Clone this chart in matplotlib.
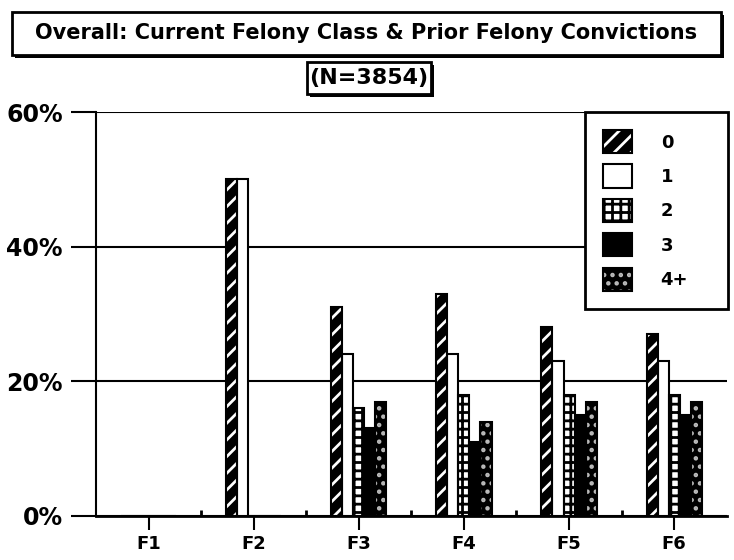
import numpy as np
import matplotlib
matplotlib.use("Agg")
import matplotlib.pyplot as plt
from matplotlib.patches import Patch, Rectangle

categories = ["F1", "F2", "F3", "F4", "F5", "F6"]
series_names = ["0", "1", "2", "3", "4+"]
values = {
    "0": [0, 50, 31, 33, 28, 27],
    "1": [0, 50, 24, 24, 23, 23],
    "2": [0, 0, 16, 18, 18, 18],
    "3": [0, 0, 13, 11, 15, 15],
    "4+": [0, 0, 17, 14, 17, 17],
}
yticks = [0, 20, 40, 60]
ytick_labels = ["0%", "20%", "40%", "60%"]

# face colour, hatch colour, hatch pattern for each series
styles = {
    "0": ("black", "white", "//"),
    "1": ("white", "white", None),
    "2": ("white", "black", "++"),
    "3": ("black", "black", None),
    "4+": ("black", "#bbbbbb", ".."),
}

plt.rcParams["font.family"] = ["DejaVu Sans"]
plt.rcParams["hatch.linewidth"] = 2.0


def boxed_text(fig, text, x0, y0, x1, y1, size):
    # drop shadow, then the white box, then the text
    fig.add_artist(Rectangle((x0 + 0.004, y0 - 0.005), x1 - x0, y1 - y0,
                             transform=fig.transFigure, facecolor="black",
                             edgecolor="none"))
    fig.add_artist(Rectangle((x0, y0), x1 - x0, y1 - y0, transform=fig.transFigure,
                             facecolor="white", edgecolor="black", linewidth=2))
    fig.text((x0 + x1) / 2, (y0 + y1) / 2, text, ha="center", va="center",
             fontsize=size, fontweight="bold")


def main():
    fig = plt.figure(figsize=(7.34, 5.6), dpi=100)
    ax = fig.add_axes([0.131, 0.0786, 0.859, 0.7214])

    x = np.arange(len(categories))
    width = 0.105
    handles = []
    for i, name in enumerate(series_names):
        face, hcol, hatch = styles[name]
        pos = x + (i - 2) * width
        ax.bar(pos, values[name], width, color=face, edgecolor=hcol,
               hatch=hatch, linewidth=0, zorder=3)
        ax.bar(pos, values[name], width, fill=False, edgecolor="black",
               linewidth=1.5, zorder=4)
        handles.append((Patch(facecolor=face, edgecolor=hcol, hatch=hatch, linewidth=0),
                        Patch(fill=False, edgecolor="black", linewidth=1.5)))

    ax.set_xlim(-0.5, len(categories) - 0.5)
    ax.set_ylim(0, 60)
    ax.set_yticks(yticks)
    ax.set_yticklabels(ytick_labels, fontsize=17, fontweight="bold")
    ax.set_xticks(x)
    ax.set_xticklabels(categories, fontsize=13, fontweight="bold")
    ax.set_xticks(x[:-1] + 0.5, minor=True)
    ax.tick_params(axis="y", length=18, width=1.5, pad=6)
    ax.tick_params(axis="x", which="major", length=10, width=1.5, pad=4)
    ax.tick_params(axis="x", which="minor", length=4, width=2, direction="in")
    ax.yaxis.grid(True, color="black", linewidth=1.5, zorder=1)
    ax.set_axisbelow(True)
    for side in ["top", "right"]:
        ax.spines[side].set_visible(False)
    ax.spines["left"].set_linewidth(1.5)
    ax.spines["bottom"].set_linewidth(2)

    leg = ax.legend(handles, series_names,
                    loc="upper left", bbox_to_anchor=(0.775, 1.0, 0.227, 0.0),
                    mode="expand", frameon=True, fancybox=False, framealpha=1,
                    borderpad=1.0, handlelength=1.6, handleheight=1.6,
                    labelspacing=0.62, handletextpad=1.6, borderaxespad=0,
                    prop={"size": 13, "weight": "bold"})
    leg.get_frame().set_edgecolor("black")
    leg.get_frame().set_linewidth(2)
    leg.set_zorder(5)

    boxed_text(fig, "Overall: Current Felony Class & Prior Felony Convictions",
               0.016, 0.902, 0.982, 0.979, 15)
    boxed_text(fig, "(N=3854)", 0.418, 0.832, 0.587, 0.889, 16)

    fig.savefig("out.png", dpi=100)


if __name__ == "__main__":
    main()
